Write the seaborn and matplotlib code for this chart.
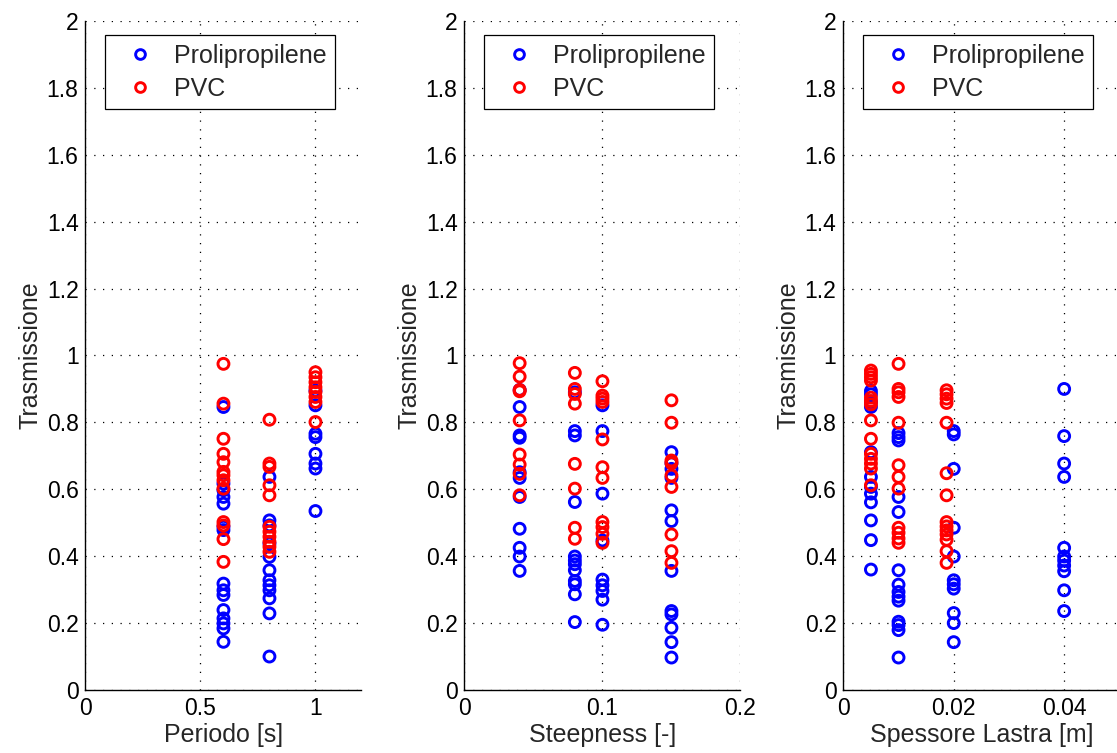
import numpy as np
import pandas as pd
import matplotlib
matplotlib.use("Agg")
import matplotlib.pyplot as plt
import seaborn as sns

sns.set_style("white")
plt.rcParams["font.family"] = ["Liberation Sans", "DejaVu Sans"]

# --- Trasmissione vs Periodo [s] ---
periodo_pp_x = [0.6] * 15 + [0.8] * 12 + [1.0] * 8
periodo_pp_y = [0.846, 0.617, 0.597, 0.577, 0.557, 0.488, 0.478, 0.318, 0.298, 0.284,
                0.239, 0.214, 0.199, 0.184, 0.144,
                0.637, 0.507, 0.492, 0.438, 0.398, 0.358, 0.328, 0.313, 0.298, 0.274,
                0.229, 0.100,
                0.895, 0.851, 0.766, 0.756, 0.706, 0.677, 0.662, 0.535]
periodo_pvc_x = [0.6] * 13 + [0.8] * 11 + [1.0] * 8
periodo_pvc_y = [0.975, 0.856, 0.751, 0.706, 0.681, 0.652, 0.642, 0.627, 0.602, 0.502,
                 0.492, 0.451, 0.383,
                 0.808, 0.677, 0.667, 0.612, 0.582, 0.488, 0.473, 0.458, 0.443, 0.428,
                 0.413,
                 0.950, 0.935, 0.920, 0.905, 0.891, 0.876, 0.861, 0.801]

# --- Trasmissione vs Steepness [-] ---
steep_pp_x = [0.04] * 11 + [0.08] * 12 + [0.10] * 9 + [0.15] * 12
steep_pp_y = [0.897, 0.846, 0.761, 0.754, 0.651, 0.634, 0.577, 0.482, 0.425, 0.399, 0.356,
              0.890, 0.774, 0.761, 0.562, 0.399, 0.387, 0.376, 0.358, 0.326, 0.316, 0.286,
              0.203,
              0.851, 0.774, 0.587, 0.447, 0.330, 0.313, 0.296, 0.270, 0.195,
              0.711, 0.678, 0.661, 0.634, 0.537, 0.505, 0.356, 0.236, 0.226, 0.186, 0.143,
              0.097]
steep_pvc_x = [0.04] * 9 + [0.08] * 8 + [0.10] * 11 + [0.15] * 9
steep_pvc_y = [0.977, 0.937, 0.897, 0.893, 0.806, 0.704, 0.674, 0.646, 0.582,
               0.948, 0.900, 0.885, 0.856, 0.676, 0.602, 0.485, 0.452,
               0.923, 0.880, 0.871, 0.861, 0.749, 0.666, 0.634, 0.502, 0.487, 0.467, 0.440,
               0.866, 0.799, 0.686, 0.678, 0.641, 0.607, 0.465, 0.415, 0.380]

# --- Trasmissione vs Spessore Lastra [m] ---
spess_pp_x = [0.005] * 12 + [0.010] * 14 + [0.020] * 11 + [0.040] * 11
spess_pp_y = [0.894, 0.884, 0.861, 0.846, 0.711, 0.637, 0.607, 0.587, 0.561, 0.507,
              0.448, 0.360,
              0.768, 0.756, 0.746, 0.577, 0.532, 0.358, 0.315, 0.293, 0.279, 0.267,
              0.204, 0.194, 0.179, 0.097,
              0.774, 0.764, 0.661, 0.485, 0.399, 0.328, 0.316, 0.303, 0.230, 0.200, 0.143,
              0.900, 0.759, 0.677, 0.637, 0.425, 0.399, 0.387, 0.372, 0.355, 0.298, 0.236]
spess_pvc_x = [0.005] * 14 + [0.010] * 12 + [0.0187] * 14
spess_pvc_y = [0.955, 0.945, 0.935, 0.925, 0.874, 0.864, 0.854, 0.806, 0.751, 0.706,
               0.691, 0.677, 0.662, 0.612,
               0.975, 0.900, 0.890, 0.876, 0.799, 0.672, 0.637, 0.602, 0.485, 0.470,
               0.453, 0.440,
               0.896, 0.884, 0.871, 0.858, 0.799, 0.648, 0.582, 0.502, 0.489, 0.477,
               0.465, 0.449, 0.415, 0.380]

series_names = ["Prolipropilene", "PVC"]
series_colors = ["#0000ff", "#ff0000"]

panels = [
    (periodo_pp_x, periodo_pp_y, periodo_pvc_x, periodo_pvc_y, "Periodo [s]",
     (0, 1.2), [0, 0.5, 1], ["0", "0.5", "1"]),
    (steep_pp_x, steep_pp_y, steep_pvc_x, steep_pvc_y, "Steepness [-]",
     (0, 0.2), [0, 0.1, 0.2], ["0", "0.1", "0.2"]),
    (spess_pp_x, spess_pp_y, spess_pvc_x, spess_pvc_y, "Spessore Lastra [m]",
     (0, 0.05), [0, 0.02, 0.04], ["0", "0.02", "0.04"]),
]

y_ticks = [0, 0.2, 0.4, 0.6, 0.8, 1.0, 1.2, 1.4, 1.6, 1.8, 2.0]
y_labels = ["0", "0.2", "0.4", "0.6", "0.8", "1", "1.2", "1.4", "1.6", "1.8", "2"]

fig = plt.figure(figsize=(11.17, 7.53), dpi=100)
lefts = [0.0765, 0.4158, 0.755]
tick_fs = 16.5
label_fs = 18

for left, (px, py, vx, vy, xlabel, xlim, xticks, xtl) in zip(lefts, panels):
    ax = fig.add_axes([left, 0.0837, 0.2471, 0.8884])
    df = pd.concat([
        pd.DataFrame({"x": px, "y": py, "mat": series_names[0]}),
        pd.DataFrame({"x": vx, "y": vy, "mat": series_names[1]}),
    ], ignore_index=True)
    for name, col in zip(series_names, series_colors):
        sub = df[df["mat"] == name]
        sns.scatterplot(data=sub, x="x", y="y", ax=ax, marker="o", s=62,
                        facecolors="none", edgecolor=col, linewidth=2.1,
                        label=name, legend=False)
    ax.set_xlim(*xlim)
    ax.set_ylim(0, 2)
    ax.set_xticks(xticks)
    ax.set_xticklabels(xtl)
    ax.set_yticks(y_ticks)
    ax.set_yticklabels(y_labels)
    ax.set_xlabel(xlabel, fontsize=label_fs, labelpad=2)
    ax.set_ylabel("Trasmissione", fontsize=label_fs, labelpad=3)
    ax.tick_params(axis="both", direction="in", length=4, width=0.8,
                   labelsize=tick_fs, colors="black", pad=5)
    ax.grid(True, linestyle=(0, (1, 6)), color="black", linewidth=0.9)
    for side in ["top", "right"]:
        ax.spines[side].set_visible(False)
    for side in ["left", "bottom"]:
        ax.spines[side].set_color("black")
        ax.spines[side].set_linewidth(1.0)

    handles = [plt.Line2D([], [], marker="o", linestyle="none", markersize=7,
                          markerfacecolor="none", markeredgecolor=c,
                          markeredgewidth=2.1) for c in series_colors]
    leg = ax.legend(handles, series_names, loc="upper left",
                    bbox_to_anchor=(0.072, 0.979), fontsize=label_fs, frameon=True,
                    fancybox=False, edgecolor="black", framealpha=1,
                    handletextpad=0.3, borderpad=0.35, labelspacing=0.35,
                    handlelength=2.1, borderaxespad=0)
    leg.get_frame().set_linewidth(0.9)

fig.savefig("out.png", dpi=100, facecolor="white")
